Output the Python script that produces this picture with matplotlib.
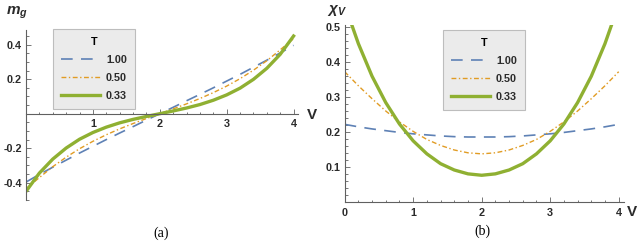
import matplotlib
matplotlib.use("Agg")
import matplotlib.pyplot as plt
from matplotlib.ticker import MultipleLocator, FixedLocator

plt.rcParams['font.family'] = ['Liberation Sans', 'DejaVu Sans']
plt.rcParams['font.weight'] = 'bold'
plt.rcParams['axes.unicode_minus'] = False
plt.rcParams['mathtext.fontset'] = 'custom'
plt.rcParams['mathtext.it'] = 'Liberation Sans:bold:italic'
plt.rcParams['mathtext.rm'] = 'Liberation Sans:bold'

# data
V = [0.0, 0.2, 0.4, 0.6, 0.8, 1.0, 1.2, 1.4, 1.6, 1.8, 2.0,
     2.2, 2.4, 2.6, 2.8, 3.0, 3.2, 3.4, 3.6, 3.8, 4.0]
temps = ['1.00', '0.50', '0.33']

m_T100 = [-0.396, -0.352, -0.310, -0.269, -0.228, -0.189, -0.150, -0.112, -0.075, -0.037, 0.0,
          0.037, 0.075, 0.112, 0.150, 0.189, 0.228, 0.269, 0.310, 0.352, 0.396]
m_T050 = [-0.435, -0.370, -0.307, -0.252, -0.203, -0.160, -0.122, -0.088, -0.057, -0.028, 0.0,
          0.028, 0.057, 0.088, 0.122, 0.160, 0.203, 0.252, 0.307, 0.370, 0.435]
m_T033 = [-0.450, -0.344, -0.263, -0.199, -0.148, -0.109, -0.078, -0.053, -0.033, -0.016, 0.0,
          0.016, 0.033, 0.053, 0.078, 0.109, 0.148, 0.199, 0.263, 0.344, 0.450]

chi_T100 = [0.222, 0.215, 0.209, 0.204, 0.199, 0.195, 0.192, 0.189, 0.187, 0.186, 0.186,
            0.186, 0.187, 0.189, 0.192, 0.195, 0.199, 0.204, 0.209, 0.215, 0.222]
chi_T050 = [0.372, 0.332, 0.295, 0.260, 0.229, 0.202, 0.179, 0.162, 0.149, 0.141, 0.138,
            0.141, 0.149, 0.162, 0.179, 0.202, 0.229, 0.260, 0.295, 0.332, 0.372]
chi_T033 = [0.563, 0.452, 0.359, 0.284, 0.223, 0.175, 0.138, 0.110, 0.092, 0.081, 0.077,
            0.081, 0.092, 0.110, 0.138, 0.175, 0.223, 0.284, 0.359, 0.452, 0.563]

colors = ['#5E81B5', '#E19C24', '#8FB032']
styles = [dict(ls=(0, (7, 5)), lw=1.2),
          dict(ls=(0, (3.5, 1.8, 1, 1.8)), lw=1.0),
          dict(ls='-', lw=2.4)]
axis_col = '#606060'
tick_col = '#2b2b2b'

fig = plt.figure(figsize=(6.44, 2.45), dpi=100)
ax1 = fig.add_axes([0.0404, 0.1837, 0.4217, 0.6939])
ax2 = fig.add_axes([0.5352, 0.1743, 0.4340, 0.7236])


def style_axes(ax):
    for s in ['top', 'right']:
        ax.spines[s].set_visible(False)
    for s in ['left', 'bottom']:
        ax.spines[s].set_color(axis_col)
        ax.spines[s].set_linewidth(0.8)
    ax.tick_params(which='both', direction='in', colors=axis_col, width=0.6)
    ax.tick_params(which='major', length=3.5, labelsize=7.8, labelcolor=tick_col)
    ax.tick_params(which='minor', length=1.8)


# (a) magnetisation
for ys, c, st, t in zip([m_T100, m_T050, m_T033], colors, styles, temps):
    ax1.plot(V, ys, color=c, label=t, **st)
ax1.set_xlim(0, 4.06)
ax1.set_ylim(-0.50, 0.485)
ax1.spines['bottom'].set_position(('data', 0))
ax1.xaxis.set_major_locator(FixedLocator([1, 2, 3, 4]))
ax1.xaxis.set_minor_locator(MultipleLocator(0.2))
ax1.yaxis.set_major_locator(FixedLocator([-0.4, -0.2, 0.2, 0.4]))
ax1.yaxis.set_minor_locator(MultipleLocator(0.05))
ax1.set_xticklabels(['1', '2', '3', '4'])
ax1.set_yticklabels(['-0.4', '-0.2', '0.2', '0.4'])
style_axes(ax1)
ax1.tick_params(axis='x', pad=4)
ax1.tick_params(axis='y', pad=3)

# (b) susceptibility
for ys, c, st, t in zip([chi_T100, chi_T050, chi_T033], colors, styles, temps):
    ax2.plot(V, ys, color=c, label=t, **st)
ax2.set_xlim(0, 4.08)
ax2.set_ylim(0, 0.505)
ax2.xaxis.set_major_locator(FixedLocator([0, 1, 2, 3, 4]))
ax2.xaxis.set_minor_locator(MultipleLocator(0.2))
ax2.yaxis.set_major_locator(FixedLocator([0.1, 0.2, 0.3, 0.4, 0.5]))
ax2.yaxis.set_minor_locator(MultipleLocator(0.02))
ax2.set_xticklabels(['0', '1', '2', '3', '4'])
ax2.set_yticklabels(['0.1', '0.2', '0.3', '0.4', '0.5'])
style_axes(ax2)
ax2.tick_params(axis='x', pad=4)
ax2.tick_params(axis='y', pad=3)

# legends
for ax, (lx, ly) in [(ax1, (53, 29)), (ax2, (443, 30))]:
    leg = ax.legend(title='T', loc='upper left',
                    bbox_to_anchor=(lx / 644, 1 - ly / 245),
                    bbox_transform=fig.transFigure, borderaxespad=0,
                    fontsize=7.8, title_fontsize=7.8, handlelength=3.6,
                    handletextpad=0.6, labelspacing=0.75, borderpad=0.7,
                    fancybox=False, framealpha=1, facecolor='#EBEBEB',
                    edgecolor='#BDBDBD')
    leg.get_frame().set_linewidth(0.8)
    for txt in leg.get_texts():
        txt.set_color(tick_col)

# axis labels
fig.text(17 / 644, 1 - 13 / 245, r'$m_g$', fontsize=11, ha='center', va='center', color=tick_col)
fig.text(312 / 644, 1 - 115 / 245, 'V', fontsize=11, ha='center', va='center', color=tick_col)
fig.text(337 / 644, 1 - 11 / 245, r'$\chi_V$', fontsize=11, ha='center', va='center', color=tick_col)
fig.text(632 / 644, 1 - 212 / 245, 'V', fontsize=11, ha='center', va='center', color=tick_col)

fig.text(161 / 644, 1 - 233 / 245, '(a)', family='Liberation Serif', fontweight='normal',
         fontsize=10, ha='center', va='center')
fig.text(482 / 644, 1 - 231 / 245, '(b)', family='Liberation Serif', fontweight='normal',
         fontsize=10, ha='center', va='center')

fig.savefig('out.png', dpi=100)
